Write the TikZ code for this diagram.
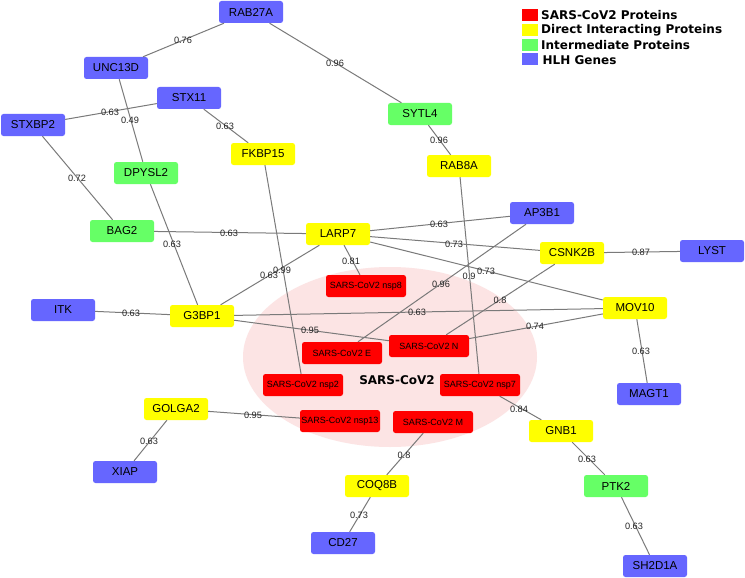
\documentclass[tikz,border=0pt]{standalone}
\usepackage{fontspec}
\setmainfont{Liberation Sans}
\newfontfamily\legfont{DejaVu Sans}
\definecolor{hlh}{RGB}{102,102,255}
\definecolor{inter}{RGB}{102,255,102}
\definecolor{direct}{RGB}{255,255,0}
\definecolor{sars}{RGB}{255,0,0}
\definecolor{ellc}{RGB}{252,228,228}
\definecolor{edgec}{RGB}{122,122,122}
\begin{document}
\begin{tikzpicture}[x=1pt,y=-1pt,
  nd/.style={rectangle, rounded corners=2.5pt, minimum width=64pt, minimum height=22pt, inner sep=0pt, font=\fontsize{11.5}{12}\selectfont},
  hlhn/.style={nd, fill=hlh},
  intn/.style={nd, fill=inter},
  dirn/.style={nd, fill=direct},
  sarsn/.style={nd, fill=sars, minimum width=80pt, font=\fontsize{9}{10}\selectfont},
  lk/.style={draw=edgec, line width=1pt},
  elab/.style={inner sep=0pt, font=\fontsize{9.2}{10}\selectfont, text=black!85},
  legbox/.style={rectangle, minimum width=16pt, minimum height=12pt, inner sep=0pt},
  legtxt/.style={anchor=west, inner sep=0pt, font=\legfont\bfseries\fontsize{12}{14}\selectfont}
]
\useasboundingbox (0,0) rectangle (745,578);
\fill[white] (0,0) rectangle (745,578);
% background ellipse
\fill[ellc] (390,357) ellipse [x radius=147, y radius=90];
\node[font=\legfont\bfseries\fontsize{12}{14}\selectfont, inner sep=0pt] (cov) at (397,380) {SARS-CoV2};

% HLH genes
\node[hlhn] (rab27a) at (251,12) {RAB27A};
\node[hlhn] (unc13d) at (116,68) {UNC13D};
\node[hlhn] (stx11) at (189,98) {STX11};
\node[hlhn] (stxbp2) at (33,125) {STXBP2};
\node[hlhn] (ap3b1) at (542,213) {AP3B1};
\node[hlhn] (lyst) at (712,251) {LYST};
\node[hlhn] (itk) at (63,310) {ITK};
\node[hlhn] (magt1) at (649,394) {MAGT1};
\node[hlhn] (xiap) at (125,472) {XIAP};
\node[hlhn] (cd27) at (343,543) {CD27};
\node[hlhn] (sh2d1a) at (655,566) {SH2D1A};
% intermediate
\node[intn] (sytl4) at (420,114) {SYTL4};
\node[intn] (dpysl2) at (146,173) {DPYSL2};
\node[intn] (bag2) at (122,231) {BAG2};
\node[intn] (ptk2) at (616,486) {PTK2};
% direct
\node[dirn] (fkbp15) at (263,154) {FKBP15};
\node[dirn] (rab8a) at (459,166) {RAB8A};
\node[dirn] (larp7) at (338,234) {LARP7};
\node[dirn] (csnk2b) at (572,253) {CSNK2B};
\node[dirn] (g3bp1) at (202,316) {G3BP1};
\node[dirn] (mov10) at (635,308) {MOV10};
\node[dirn] (golga2) at (176,409) {GOLGA2};
\node[dirn] (gnb1) at (561,431) {GNB1};
\node[dirn] (coq8b) at (377,486) {COQ8B};
% SARS-CoV2 proteins
\node[sarsn] (nsp8) at (366,286) {SARS-CoV2 nsp8};
\node[sarsn] (cove) at (342,353) {SARS-CoV2 E};
\node[sarsn] (covn) at (429,346) {SARS-CoV2 N};
\node[sarsn] (nsp2) at (303,385) {SARS-CoV2 nsp2};
\node[sarsn] (nsp7) at (480,385) {SARS-CoV2 nsp7};
\node[sarsn] (nsp13) at (340,421) {SARS-CoV2 nsp13};
\node[sarsn] (covm) at (433,422) {SARS-CoV2 M};

% edges
\draw[lk] (rab27a) -- (unc13d);
\draw[lk] (rab27a) -- (sytl4);
\draw[lk] (sytl4) -- (rab8a);
\draw[lk] (unc13d) -- (dpysl2);
\draw[lk] (dpysl2) -- (g3bp1);
\draw[lk] (stxbp2) -- (stx11);
\draw[lk] (stx11) -- (fkbp15);
\draw[lk] (stxbp2) -- (bag2);
\draw[lk] (fkbp15) -- (nsp2);
\draw[lk] (bag2) -- (larp7);
\draw[lk] (larp7) -- (g3bp1);
\draw[lk] (larp7) -- (nsp8);
\draw[lk] (larp7) -- (ap3b1);
\draw[lk] (larp7) -- (csnk2b);
\draw[lk] (larp7) -- (mov10);
\draw[lk] (ap3b1) -- (cove);
\draw[lk] (rab8a) -- (nsp7);
\draw[lk] (csnk2b) -- (covn);
\draw[lk] (csnk2b) -- (lyst);
\draw[lk] (g3bp1) -- (mov10);
\draw[lk] (g3bp1) -- (covn);
\draw[lk] (covn) -- (mov10);
\draw[lk] (mov10) -- (magt1);
\draw[lk] (itk) -- (g3bp1);
\draw[lk] (golga2) -- (nsp13);
\draw[lk] (golga2) -- (xiap);
\draw[lk] (nsp7) -- (gnb1);
\draw[lk] (covm) -- (coq8b);
\draw[lk] (coq8b) -- (cd27);
\draw[lk] (gnb1) -- (ptk2);
\draw[lk] (ptk2) -- (sh2d1a);

% edge labels
\node[elab] (l1) at (183,40) {0.76};
\node[elab] (l2) at (335,63) {0.96};
\node[elab] (l3) at (439,140) {0.96};
\node[elab] (l4) at (130,120) {0.49};
\node[elab] (l5) at (172,244) {0.63};
\node[elab] (l6) at (110,112) {0.63};
\node[elab] (l7) at (225,126) {0.63};
\node[elab] (l8) at (77,178) {0.72};
\node[elab] (l9) at (282,270) {0.99};
\node[elab] (l10) at (229,233) {0.63};
\node[elab] (l11) at (269,275) {0.63};
\node[elab] (l12) at (351,261) {0.81};
\node[elab] (l13) at (439,224) {0.63};
\node[elab] (l14) at (454,244) {0.73};
\node[elab] (l15) at (486,271) {0.73};
\node[elab] (l16) at (441,284) {0.96};
\node[elab] (l17) at (469,276) {0.9};
\node[elab] (l18) at (500,300) {0.8};
\node[elab] (l19) at (641,252) {0.87};
\node[elab] (l20) at (417,312) {0.63};
\node[elab] (l21) at (310,330) {0.95};
\node[elab] (l22) at (535,326) {0.74};
\node[elab] (l23) at (641,351) {0.63};
\node[elab] (l24) at (131,313) {0.63};
\node[elab] (l25) at (253,415) {0.95};
\node[elab] (l26) at (149,441) {0.63};
\node[elab] (l27) at (519,409) {0.84};
\node[elab] (l28) at (404,455) {0.8};
\node[elab] (l29) at (359,515) {0.73};
\node[elab] (l30) at (587,459) {0.63};
\node[elab] (l31) at (634,526) {0.63};

% legend
\node[legbox, fill=sars] (k1) at (530,15) {};
\node[legbox, fill=direct] (k2) at (530,30) {};
\node[legbox, fill=inter] (k3) at (530,45) {};
\node[legbox, fill=hlh] (k4) at (530,59) {};
\node[legtxt] (t1) at (541,15.5) {SARS-CoV2 Proteins};
\node[legtxt] (t2) at (541,30.5) {Direct Interacting Proteins};
\node[legtxt] (t3) at (541,45.5) {Intermediate Proteins};
\node[legtxt] (t4) at (542.5,60) {HLH Genes};
\end{tikzpicture}
\end{document}
